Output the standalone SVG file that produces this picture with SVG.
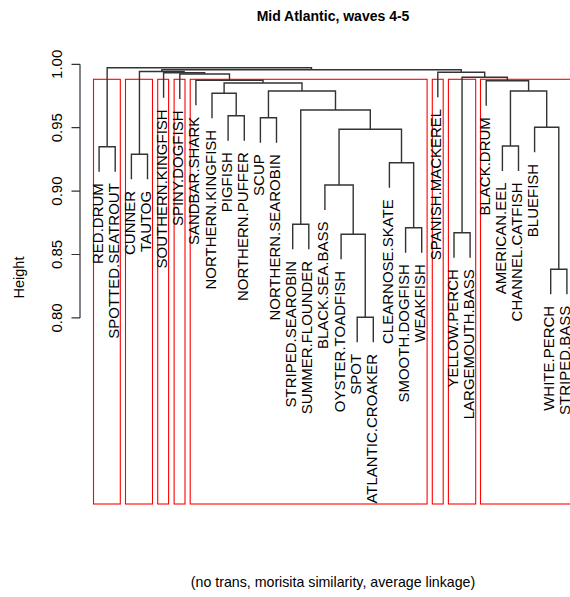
<svg xmlns="http://www.w3.org/2000/svg" width="570" height="597" viewBox="0 0 570 597">
<style>
text{font-family:"Liberation Sans",Arial,sans-serif;fill:#000}
.lbl{font-size:15px;text-anchor:end}
.tick{font-size:15px;text-anchor:middle}
.title{font-size:14px;font-weight:bold;text-anchor:middle}
.sub{font-size:14.2px;text-anchor:middle}
.edge{fill:none;stroke:#333;stroke-width:1.4}
.box{fill:none;stroke:#ff0000;stroke-width:1.1}
.axis{fill:none;stroke:#333;stroke-width:1.2}
</style>
<rect width="570" height="597" fill="#fff"/>
<text class="title" x="333" y="20.5">Mid Atlantic, waves 4-5</text>
<text class="sub" x="333" y="586.5">(no trans, morisita similarity, average linkage)</text>
<g id="y-axis">
<path class="axis" d="M80,64.3V317.9M71.5,64.3H80M71.5,127.7H80M71.5,191.1H80M71.5,254.5H80M71.5,317.9H80"/>
<text class="tick" transform="translate(61.5,64.3) rotate(-90)">1.00</text>
<text class="tick" transform="translate(61.5,127.7) rotate(-90)">0.95</text>
<text class="tick" transform="translate(61.5,191.1) rotate(-90)">0.90</text>
<text class="tick" transform="translate(61.5,254.5) rotate(-90)">0.85</text>
<text class="tick" transform="translate(61.5,317.9) rotate(-90)">0.80</text>
<text class="tick" style="font-size:14.5px" transform="translate(24,277.5) rotate(-90)">Height</text>
</g>
<g id="clusters">
<rect class="box" x="93.5" y="79.3" width="26.8" height="424.7"/>
<rect class="box" x="125.5" y="79.3" width="27" height="424.7"/>
<rect class="box" x="157.7" y="79.3" width="10.9" height="424.7"/>
<rect class="box" x="174.1" y="79.3" width="10.9" height="424.7"/>
<rect class="box" x="190.2" y="79.3" width="236.9" height="424.7"/>
<rect class="box" x="432.3" y="79.3" width="10.9" height="424.7"/>
<rect class="box" x="448.4" y="79.3" width="27.3" height="424.7"/>
<rect class="box" x="480.5" y="79.3" width="95" height="424.7"/>
</g>
<g id="connectors">
<path class="edge" d="M99.1,171.7V146.7H115.2V171.7"/>
<path class="edge" d="M131.4,179.3V154.3H147.5V179.3"/>
<path class="edge" d="M228.1,140.7V115.7H244.3V140.7"/>
<path class="edge" d="M212,118.3V93.3H236.2V115.7"/>
<path class="edge" d="M260.4,142.7V117.7H276.5V142.7"/>
<path class="edge" d="M292.7,249.3V224.3H308.8V249.3"/>
<path class="edge" d="M357.2,342.3V317.3H373.3V342.3"/>
<path class="edge" d="M341.1,259.3V234.3H365.25V317.3"/>
<path class="edge" d="M324.9,210V185H353.2V234.3"/>
<path class="edge" d="M405.6,252.7V227.7H421.7V252.7"/>
<path class="edge" d="M389.4,187.7V162.7H413.65V227.7"/>
<path class="edge" d="M339.05,185V129.3H401.5V162.7"/>
<path class="edge" d="M300.75,224.3V110H370.3V129.3"/>
<path class="edge" d="M268.45,117.7V91H335.5V110"/>
<path class="edge" d="M224.1,93.3V83H302V91"/>
<path class="edge" d="M195.9,105.2V80.2H263.05V83"/>
<path class="edge" d="M179.8,99V74H229.5V80.2"/>
<path class="edge" d="M163.6,97.8V72.8H204.65V74"/>
<path class="edge" d="M139.45,154.3V71.5H184.1V72.8"/>
<path class="edge" d="M454,257.7V232.7H470.1V257.7"/>
<path class="edge" d="M502.4,171V146H518.5V171"/>
<path class="edge" d="M550.7,294.3V269.3H566.9V294.3"/>
<path class="edge" d="M534.6,152.3V127.3H558.8V269.3"/>
<path class="edge" d="M510.45,146V91H546.7V127.3"/>
<path class="edge" d="M486.2,105.7V80.7H528.6V91"/>
<path class="edge" d="M462.05,232.7V77.3H507.4V80.7"/>
<path class="edge" d="M437.8,97.3V72.3H484.7V77.3"/>
<path class="edge" d="M161.8,71.5V69.8H461.25V72.3"/>
<path class="edge" d="M107.15,146.7V67.8H311.5V69.8"/>
</g>
<g id="leaf-red-drum"><text class="lbl" transform="translate(102.6,183.2) rotate(-90)">RED.DRUM</text></g>
<g id="leaf-spotted-seatrout"><text class="lbl" transform="translate(118.7,183.2) rotate(-90)">SPOTTED.SEATROUT</text></g>
<g id="leaf-cunner"><text class="lbl" transform="translate(134.9,190.8) rotate(-90)">CUNNER</text></g>
<g id="leaf-tautog"><text class="lbl" transform="translate(151,190.8) rotate(-90)">TAUTOG</text></g>
<g id="leaf-southern-kingfish"><text class="lbl" transform="translate(167.1,109.3) rotate(-90)">SOUTHERN.KINGFISH</text></g>
<g id="leaf-spiny-dogfish"><text class="lbl" transform="translate(183.3,110.5) rotate(-90)">SPINY.DOGFISH</text></g>
<g id="leaf-sandbar-shark"><text class="lbl" transform="translate(199.4,116.7) rotate(-90)">SANDBAR.SHARK</text></g>
<g id="leaf-northern-kingfish"><text class="lbl" transform="translate(215.5,129.8) rotate(-90)">NORTHERN.KINGFISH</text></g>
<g id="leaf-pigfish"><text class="lbl" transform="translate(231.6,152.2) rotate(-90)">PIGFISH</text></g>
<g id="leaf-northern-puffer"><text class="lbl" transform="translate(247.8,152.2) rotate(-90)">NORTHERN.PUFFER</text></g>
<g id="leaf-scup"><text class="lbl" transform="translate(263.9,154.2) rotate(-90)">SCUP</text></g>
<g id="leaf-northern-searobin"><text class="lbl" transform="translate(280,154.2) rotate(-90)">NORTHERN.SEAROBIN</text></g>
<g id="leaf-striped-searobin"><text class="lbl" transform="translate(296.2,260.8) rotate(-90)">STRIPED.SEAROBIN</text></g>
<g id="leaf-summer-flounder"><text class="lbl" transform="translate(312.3,260.8) rotate(-90)">SUMMER.FLOUNDER</text></g>
<g id="leaf-black-sea-bass"><text class="lbl" transform="translate(328.4,221.5) rotate(-90)">BLACK.SEA.BASS</text></g>
<g id="leaf-oyster-toadfish"><text class="lbl" transform="translate(344.6,270.8) rotate(-90)">OYSTER.TOADFISH</text></g>
<g id="leaf-spot"><text class="lbl" transform="translate(360.7,353.8) rotate(-90)">SPOT</text></g>
<g id="leaf-atlantic-croaker"><text class="lbl" transform="translate(376.8,353.8) rotate(-90)">ATLANTIC.CROAKER</text></g>
<g id="leaf-clearnose-skate"><text class="lbl" transform="translate(392.9,199.2) rotate(-90)">CLEARNOSE.SKATE</text></g>
<g id="leaf-smooth-dogfish"><text class="lbl" transform="translate(409.1,264.2) rotate(-90)">SMOOTH.DOGFISH</text></g>
<g id="leaf-weakfish"><text class="lbl" transform="translate(425.2,264.2) rotate(-90)">WEAKFISH</text></g>
<g id="leaf-spanish-mackerel"><text class="lbl" transform="translate(441.3,108.8) rotate(-90)">SPANISH.MACKEREL</text></g>
<g id="leaf-yellow-perch"><text class="lbl" transform="translate(457.5,269.2) rotate(-90)">YELLOW.PERCH</text></g>
<g id="leaf-largemouth-bass"><text class="lbl" transform="translate(473.6,269.2) rotate(-90)">LARGEMOUTH.BASS</text></g>
<g id="leaf-black-drum"><text class="lbl" transform="translate(489.7,117.2) rotate(-90)">BLACK.DRUM</text></g>
<g id="leaf-american-eel"><text class="lbl" transform="translate(505.9,182.5) rotate(-90)">AMERICAN.EEL</text></g>
<g id="leaf-channel-catfish"><text class="lbl" transform="translate(522,182.5) rotate(-90)">CHANNEL.CATFISH</text></g>
<g id="leaf-bluefish"><text class="lbl" transform="translate(538.1,163.8) rotate(-90)">BLUEFISH</text></g>
<g id="leaf-white-perch"><text class="lbl" transform="translate(554.2,305.8) rotate(-90)">WHITE.PERCH</text></g>
<g id="leaf-striped-bass"><text class="lbl" transform="translate(570.4,305.8) rotate(-90)">STRIPED.BASS</text></g>
</svg>
